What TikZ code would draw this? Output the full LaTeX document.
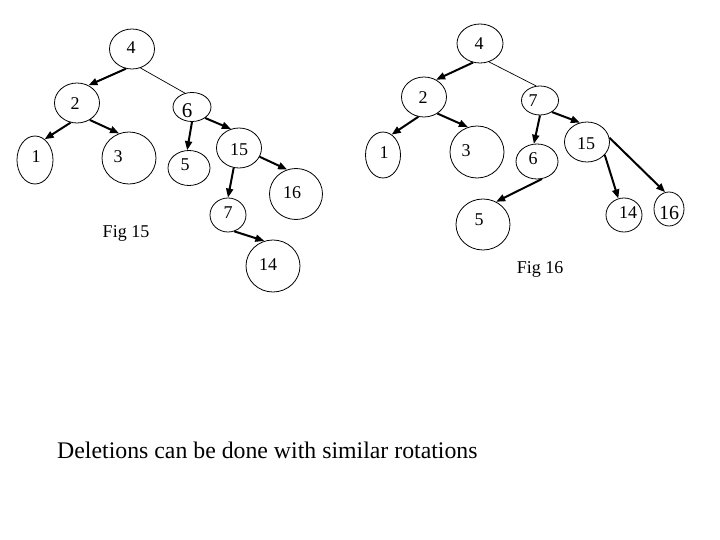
\documentclass[tikz,border=0pt]{standalone}
\usepackage{fontspec}
\setmainfont{Liberation Serif}
\usetikzlibrary{shapes.geometric,arrows.meta}
\tikzset{
  ell/.style 2 args={ellipse,draw,line width=0.8pt,minimum width=#1pt,minimum height=#2pt,inner sep=0pt},
  lbl/.style={inner sep=0pt,font=\fontsize{18}{18}\selectfont},
  biglbl/.style={inner sep=0pt,font=\fontsize{21}{21}\selectfont},
  arr/.style={line width=2pt,-{Triangle[length=9pt,width=7pt]}},
  thinline/.style={line width=0.7pt},
  figcap/.style={inner sep=0pt,anchor=base,font=\fontsize{18}{18}\selectfont}
}
\begin{document}
\begin{tikzpicture}[x=1pt,y=-1pt]
\useasboundingbox (0,0) rectangle (720,540);
% ---------- left tree (Fig 15) ----------
\node[ell={45}{40}] (L4) at (132,49) {};
\node[ell={45}{40}] (L2) at (77,103) {};
\node[ell={38}{29}] (L6) at (192,107) {};
\node[ell={36}{48}] (L1) at (35,160) {};
\node[ell={54}{52}] (L3) at (129,158) {};
\node[ell={42}{35}] (L5) at (189,168) {};
\node[ell={45}{40}] (L15) at (239,148) {};
\node[ell={53}{51}] (L16) at (296,194) {};
\node[ell={36}{34}] (L7) at (228,215) {};
\node[ell={54}{52}] (L14) at (273,266) {};
\node[lbl] (tL4) at (131,48) {4};
\node[lbl] (tL2) at (75,104) {2};
\node[biglbl] (tL6) at (187,111) {6};
\node[lbl] (tL1) at (36,157) {1};
\node[lbl] (tL3) at (118,157) {3};
\node[lbl] (tL5) at (185,165) {5};
\node[lbl] (tL15) at (239,150) {15};
\node[lbl] (tL16) at (292,193) {16};
\node[lbl] (tL7) at (228,213) {7};
\node[lbl] (tL14) at (268,265) {14};
\node[figcap] (fig15) at (126,237) {Fig 15};
\draw[arr] (L4.253) -- (L2.57);
\draw[thinline] (L4.294) -- (L6.117);
\draw[arr] (L2.252) -- (L1.65);
\draw[arr] (L2.307) -- (L3.112);
\draw[arr] (L6.270) -- (L5.96);
\draw[arr] (L6.320) -- (L15.113);
\draw[arr] (L15.337) -- (L16.110);
\draw[arr] (L15.255) -- (L7.90);
\draw[arr] (L7.291) -- (L14.109);
% ---------- right tree (Fig 16) ----------
\node[ell={46}{39}] (R4) at (480,43.5) {};
\node[ell={45}{40}] (R2) at (424,97) {};
\node[ell={37}{29}] (R7) at (540,100.5) {};
\node[ell={35}{46}] (R1) at (383,155) {};
\node[ell={54}{52}] (R3) at (477,152) {};
\node[ell={42}{35}] (R6) at (537,161.5) {};
\node[ell={45}{40}] (R15) at (587,142) {};
\node[ell={54}{51}] (R5) at (483,224.5) {};
\node[ell={36}{34}] (R14) at (624,215) {};
\node[ell={30}{34}] (R16) at (669,209) {};
\node[lbl] (tR4) at (479,44) {4};
\node[lbl] (tR2) at (423,98) {2};
\node[lbl] (tR7) at (533,101) {7};
\node[lbl] (tR1) at (384,153) {1};
\node[lbl] (tR3) at (466,151) {3};
\node[lbl] (tR6) at (533,159) {6};
\node[lbl] (tR15) at (586,144) {15};
\node[lbl] (tR5) at (479,220) {5};
\node[lbl] (tR14) at (628,213) {14};
\node[inner sep=0pt,font=\fontsize{20}{20}\selectfont] (tR16) at (669,213) {16};
\node[figcap] (fig16) at (540,273) {Fig 16};
\draw[arr] (R4.250) -- (R2.55);
\draw[thinline] (R4.296) -- (R7.105);
\draw[arr] (R2.254) -- (R1.67);
\draw[arr] (R2.309) -- (R3.110);
\draw[arr] (R7.270) -- (R6.100);
\draw[arr] (R7.316) -- (R15.110);
\draw[arr] (R15.324) -- (R14.109);
\draw[arr] (R15.11) -- (R16.103);
\draw[arr] (R6.286) -- (R5.60);
% ---------- caption ----------
\node[inner sep=0pt,anchor=base west,font=\fontsize{23.8}{23.8}\selectfont] (note) at (57,458) {Deletions can be done with similar rotations};
\end{tikzpicture}
\end{document}
